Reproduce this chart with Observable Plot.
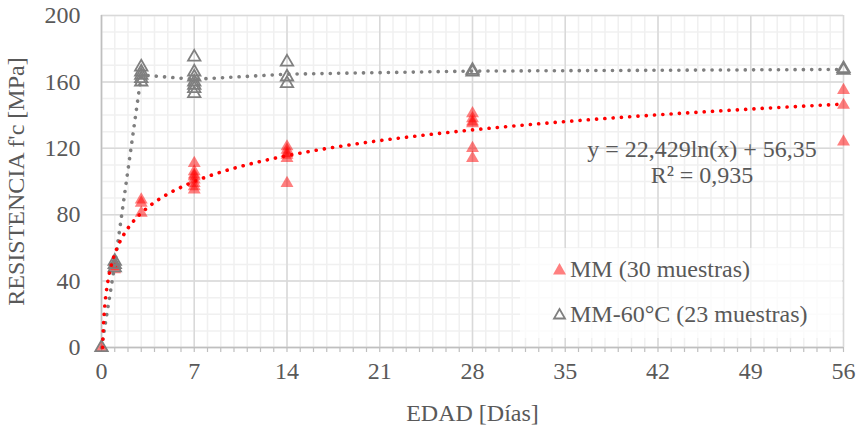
<!DOCTYPE html>
<html>
<head>
<meta charset="utf-8">
<script src="https://cdn.jsdelivr.net/npm/d3@7"></script>
<script src="https://cdn.jsdelivr.net/npm/@observablehq/plot@0.6"></script>
<style>
  html, body { margin: 0; padding: 0; background: #fff; }
  #wrap { position: relative; width: 856px; height: 428px; font-family: "Liberation Serif", "Times New Roman", serif; color: #595959; }
  .overlay { position: absolute; font-size: 24px; line-height: 26px; white-space: nowrap; }
  #eq { left: 552px; top: 136px; width: 300px; text-align: center; }
  #legend { left: 520px; top: 248px; width: 322px; height: 90px; background: rgba(255,255,255,0.72); }
  .row { position: absolute; left: 32px; display: flex; align-items: center; }
  .row svg { margin-right: 3px; }
</style>
</head>
<body>
<div id="wrap">
  <div id="chart"></div>
  <div id="eq" class="overlay">y = 22,429ln(x) + 56,35<br>R² = 0,935</div>
  <div id="legend" class="overlay">
    <div class="row" style="top:8px;"><svg width="15" height="14" viewBox="-7.5 -7 15 14"><path d="M0,-6L6.5,5.5L-6.5,5.5Z" fill="red" fill-opacity="0.5"/></svg>MM (30 muestras)</div>
    <div class="row" style="top:53px;"><svg width="15" height="14" viewBox="-7.5 -7 15 14"><path d="M0,-5L5.5,4.5L-5.5,4.5Z" fill="none" stroke="#7F7F7F" stroke-width="1.8"/></svg>MM-60°C (23 muestras)</div>
  </div>
</div>
<script>
// Compressive strength vs. age for the two mortar mixes
const mmDays = [0, 1, 1, 1, 3, 3, 3, 7, 7, 7, 7, 7, 7, 7, 7, 14, 14, 14, 14, 14, 14, 28, 28, 28, 28, 28, 28, 56, 56, 56];
const mmStrength = [0, 47, 49, 50, 81, 87, 89, 111, 106, 104, 103, 101, 99, 97, 95, 121, 119, 117, 116, 114, 99, 141, 138, 136, 135, 120, 114, 155, 146, 124];

const hotDays = [0, 1, 1, 1, 3, 3, 3, 3, 3, 7, 7, 7, 7, 7, 7, 7, 14, 14, 14, 28, 28, 56, 56];
const hotStrength = [0, 48, 50, 52, 169, 166, 164, 162, 160, 175, 166, 163, 160, 158, 156, 153, 172, 163, 159, 166, 167, 167, 168];

// Logarithmic fit for MM: y = a ln(x) + b
const fitA = 22.429;
const fitB = 56.35;

const xTicks = [0, 7, 14, 21, 28, 35, 42, 49, 56];
const yTicks = [0, 40, 80, 120, 160, 200];
const minorX = d3.range(0, 57, 1);
const minorY = d3.range(0, 201, 10);

const mm = mmDays.map((d, i) => ({day: d, fc: mmStrength[i]}));
const hot = hotDays.map((d, i) => ({day: d, fc: hotStrength[i]}));

// Trend curve from the fitted coefficients, starting where it crosses zero
const x0 = Math.exp(-fitB / fitA);
const fit = d3.range(0, 1.0001, 0.005).map(t => {
  const x = x0 * Math.pow(56 / x0, t);
  return {day: x, fc: fitA * Math.log(x) + fitB};
});

// Mean strength per age for the 60 °C series
const hotMeans = d3.rollups(hot, v => d3.mean(v, d => d.fc), d => d.day)
  .map(([day, fc]) => ({day, fc}))
  .sort((a, b) => a.day - b.day);

const chart = Plot.plot({
  width: 856,
  height: 428,
  marginLeft: 101,
  marginRight: 13,
  marginTop: 15,
  marginBottom: 81,
  style: {fontFamily: "'Liberation Serif', 'Times New Roman', serif", fontSize: "24px", color: "#595959", background: "transparent"},
  x: {domain: [0, 56]},
  y: {domain: [0, 200]},
  marks: [
    Plot.ruleX(minorX, {stroke: "#F0F0F0", strokeWidth: 1.5}),
    Plot.ruleY(minorY, {stroke: "#F0F0F0", strokeWidth: 1.5}),
    Plot.ruleX(xTicks, {stroke: "#D9D9D9", strokeWidth: 1.5}),
    Plot.ruleY(yTicks, {stroke: "#D9D9D9", strokeWidth: 1.5}),
    Plot.ruleX([0], {stroke: "#BFBFBF", strokeWidth: 1.5}),
    Plot.ruleY([0], {stroke: "#BFBFBF", strokeWidth: 1.5}),
    Plot.axisX({ticks: minorX, tickSize: 5, text: null, label: null, stroke: "#BFBFBF", strokeWidth: 1.2}),
    Plot.axisX({ticks: xTicks, tickSize: 0, tickPadding: 14, fill: "#595959",
      label: "EDAD [Días]", labelAnchor: "center", labelArrow: "none", labelOffset: 73}),
    Plot.axisY({ticks: yTicks, tickSize: 0, tickPadding: 21, fill: "#595959",
      label: "RESISTENCIA f'c [MPa]", labelAnchor: "center", labelArrow: "none", labelOffset: 95}),
    Plot.dot(mm, {x: "day", y: "fc", symbol: "triangle", r: 4.8, fill: "red", fillOpacity: 0.5, stroke: "none"}),
    Plot.dot(hot, {x: "day", y: "fc", symbol: "triangle", r: 4.6, fill: "none", stroke: "#7F7F7F", strokeWidth: 1.8}),
    Plot.line(hotMeans, {x: "day", y: "fc", stroke: "#7F7F7F", strokeWidth: 3.6, strokeDasharray: "0.1,8.2", strokeLinecap: "round"}),
    Plot.line(fit, {x: "day", y: "fc", stroke: "#FF0000", strokeWidth: 3.6, strokeDasharray: "0.1,8.2", strokeLinecap: "round"})
  ]
});
document.getElementById("chart").appendChild(chart);
</script>
</body>
</html>
